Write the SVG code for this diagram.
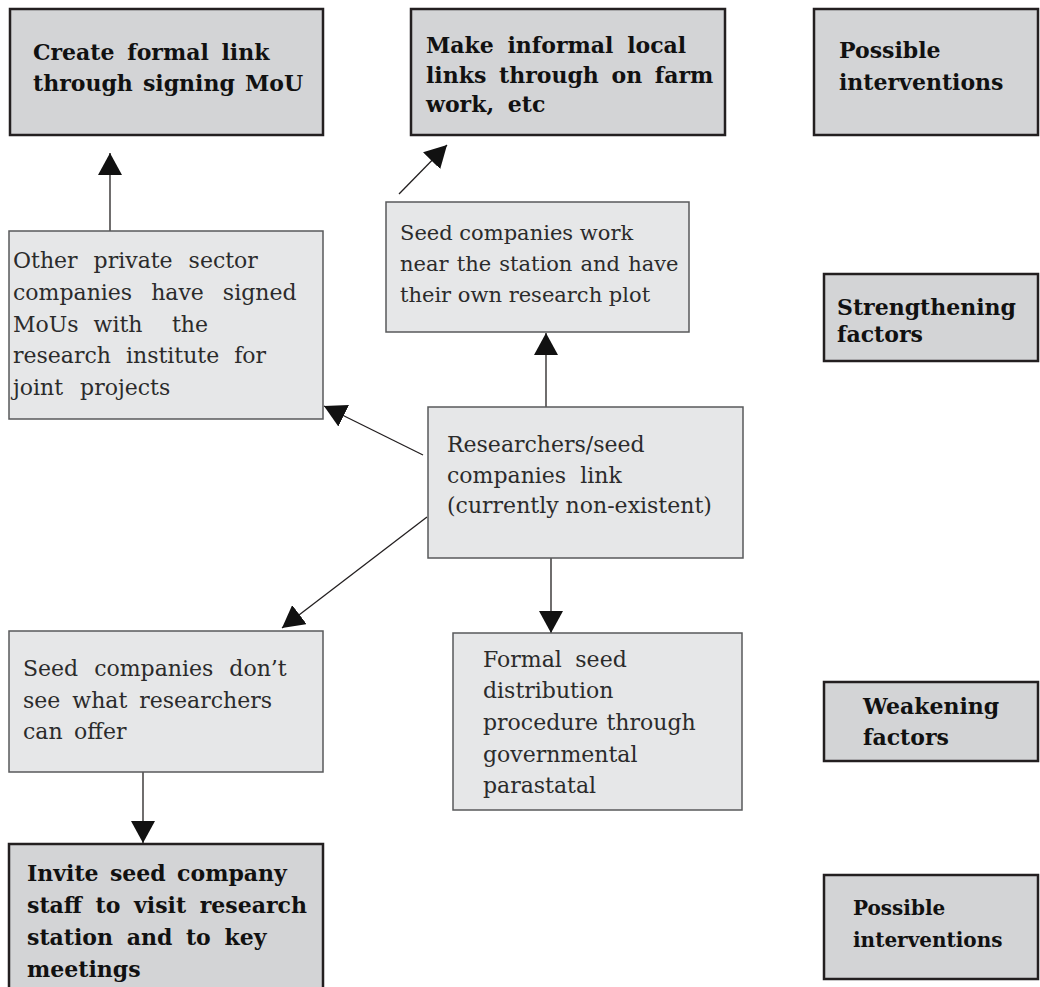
<svg xmlns="http://www.w3.org/2000/svg" width="1040" height="987" viewBox="0 0 1040 987">
<style>
.bx{fill:#d3d4d6;stroke:#231f20;stroke-width:2.5}
.lt{fill:#e6e7e8;stroke:#58595b;stroke-width:1.5}
.b{font-family:"DejaVu Serif","Liberation Serif",serif;font-weight:bold;font-size:22px;fill:#111}
.r{font-family:"DejaVu Serif","Liberation Serif",serif;font-size:22px;fill:#2b2b2b}
.c line{stroke:#231f20;stroke-width:1.3;marker-end:url(#ah)}
</style>
<defs>
<marker id="ah" viewBox="0 0 22 24" refX="22" refY="12" markerWidth="22" markerHeight="24" markerUnits="userSpaceOnUse" orient="auto">
<path d="M0,0 L22,12 L0,24 z" fill="#111"/>
</marker>
</defs>
<rect width="1040" height="987" fill="#fff"/>
<g class="c">
<line x1="110" y1="231" x2="110" y2="153"/>
<line x1="399" y1="194" x2="447" y2="145"/>
<line x1="546" y1="407" x2="546" y2="333"/>
<line x1="423" y1="455" x2="324" y2="406"/>
<line x1="427" y1="517" x2="282" y2="628"/>
<line x1="551" y1="558" x2="551" y2="633"/>
<line x1="143" y1="772" x2="143" y2="843"/>
</g>
<g id="n-formal-link">
<rect class="bx" x="10" y="9" width="313" height="126"/>
<text class="b" x="33" y="60" word-spacing="5">Create formal link</text>
<text class="b" x="33" y="91" word-spacing="2.5">through signing MoU</text>
</g>
<g id="n-informal-links">
<rect class="bx" x="411" y="9" width="314" height="126"/>
<text class="b" x="426" y="53" word-spacing="6">Make informal local</text>
<text class="b" x="426" y="83" word-spacing="5">links through on farm</text>
<text class="b" x="426" y="112" word-spacing="6">work, etc</text>
</g>
<g id="n-possible-top">
<rect class="bx" x="814" y="9" width="224" height="126"/>
<text class="b" x="839" y="58">Possible</text>
<text class="b" x="839" y="90">interventions</text>
</g>
<g id="n-other-private">
<rect class="lt" x="9" y="231" width="314" height="188"/>
<text class="r" x="13" y="268" word-spacing="9">Other private sector</text>
<text class="r" x="13" y="300" word-spacing="12">companies have signed</text>
<text class="r" x="13" y="332" word-spacing="8">MoUs with<tspan x="172">the</tspan></text>
<text class="r" x="13" y="363" word-spacing="8">research institute for</text>
<text class="r" x="13" y="395" word-spacing="10">joint projects</text>
</g>
<g id="n-seed-work">
<rect class="lt" x="386" y="202" width="303" height="130"/>
<text class="r" x="400" y="240" style="font-size:21px">Seed companies work</text>
<text class="r" x="400" y="271" style="font-size:21px" word-spacing="1.5">near the station and have</text>
<text class="r" x="400" y="302" style="font-size:21px">their own research plot</text>
</g>
<g id="n-strengthening">
<rect class="bx" x="824" y="274" width="214" height="87"/>
<text class="b" x="837" y="315">Strengthening</text>
<text class="b" x="837" y="342">factors</text>
</g>
<g id="n-link">
<rect class="lt" x="428" y="407" width="315" height="151"/>
<text class="r" x="447" y="452">Researchers/seed</text>
<text class="r" x="447" y="483" word-spacing="7">companies link</text>
<text class="r" x="447" y="513">(currently non-existent)</text>
</g>
<g id="n-seed-dont">
<rect class="lt" x="9" y="631" width="314" height="141"/>
<text class="r" x="23" y="676" word-spacing="9">Seed companies don’t</text>
<text class="r" x="23" y="708" word-spacing="5">see what researchers</text>
<text class="r" x="23" y="739" word-spacing="4.5">can offer</text>
</g>
<g id="n-formal-seed">
<rect class="lt" x="453" y="633" width="289" height="177"/>
<text class="r" x="483" y="667" word-spacing="6.5">Formal seed</text>
<text class="r" x="483" y="698">distribution</text>
<text class="r" x="483" y="730" word-spacing="1.5">procedure through</text>
<text class="r" x="483" y="762">governmental</text>
<text class="r" x="483" y="793">parastatal</text>
</g>
<g id="n-weakening">
<rect class="bx" x="824" y="682" width="214" height="79"/>
<text class="b" x="863" y="714">Weakening</text>
<text class="b" x="863" y="745">factors</text>
</g>
<g id="n-invite">
<rect class="bx" x="9" y="844" width="314" height="160"/>
<text class="b" x="27" y="881" word-spacing="3.7">Invite seed company</text>
<text class="b" x="27" y="913" word-spacing="6">staff to visit research</text>
<text class="b" x="27" y="945" word-spacing="6">station and to key</text>
<text class="b" x="27" y="977">meetings</text>
</g>
<g id="n-possible-bottom">
<rect class="bx" x="824" y="875" width="214" height="104"/>
<text class="b" x="853" y="915" style="font-size:20px">Possible</text>
<text class="b" x="853" y="947" style="font-size:20px">interventions</text>
</g>
</svg>
